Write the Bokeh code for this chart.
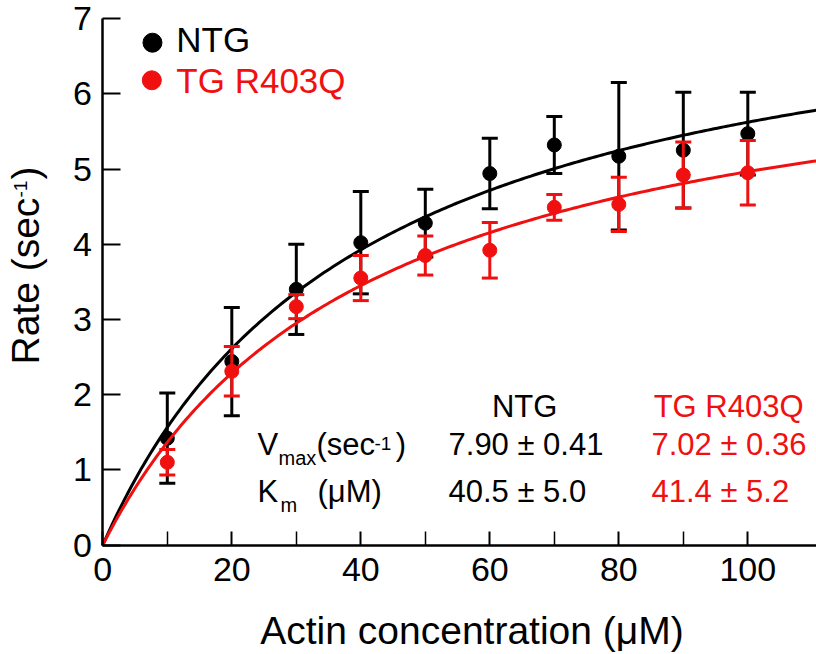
import numpy as np
from bokeh.plotting import figure
from bokeh.models import FixedTicker, Range1d, LinearAxis
from bokeh.core.properties import value
from bokeh.embed import file_html
from bokeh.resources import INLINE

# ---------------- data ----------------
conc = [10, 20, 30, 40, 50, 60, 70, 80, 90, 100]
ntg_rate = [1.42, 2.44, 3.40, 4.02, 4.28, 4.94, 5.32, 5.17, 5.25, 5.47]
ntg_err = [0.60, 0.72, 0.60, 0.68, 0.45, 0.47, 0.38, 0.98, 0.77, 0.55]
tg_rate = [1.10, 2.31, 3.17, 3.55, 3.85, 3.92, 4.49, 4.53, 4.92, 4.95]
tg_err = [0.17, 0.33, 0.16, 0.30, 0.26, 0.37, 0.17, 0.36, 0.44, 0.43]

series_names = ["NTG", "TG R403Q"]
vmax = [7.90, 7.02]
vmax_err = [0.41, 0.36]
km = [40.5, 41.4]
km_err = [5.0, 5.2]

x_ticks = [0, 20, 40, 60, 80, 100]
x_minor_ticks = [10, 30, 50, 70, 90]
y_ticks = [0, 1, 2, 3, 4, 5, 6, 7]
x_title = "Actin concentration (\u03bcM)"

# ---------------- style ----------------
FONT = "Liberation Sans"
BLACK = "#000000"
RED = "#f01010"
X_MAX = 110.65
Y_MAX = 7
BASE_FIX = 0.29  # em-fraction correction so that y is the text baseline

# the frame covers the whole canvas; axes are drawn at x=0 / y=0
p = figure(width=816, height=654, output_backend="svg", toolbar_location=None,
           x_range=Range1d(-15.86, X_MAX), y_range=Range1d(-1.456, 7.241),
           x_axis_location=None, y_axis_location=None,
           min_border=0)
p.outline_line_color = None
p.grid.visible = False
p.background_fill_color = "white"
p.border_fill_color = "white"

xax = LinearAxis(fixed_location=0, bounds=(0, X_MAX),
                 ticker=FixedTicker(ticks=x_ticks, minor_ticks=x_minor_ticks))
yax = LinearAxis(fixed_location=0, bounds=(0, Y_MAX),
                 ticker=FixedTicker(ticks=y_ticks, minor_ticks=[]))
for ax in (xax, yax):
    ax.axis_line_width = 2.5
    ax.axis_line_color = "black"
    ax.major_tick_out = 0
    ax.minor_tick_out = 0
    ax.major_tick_line_width = 2
    ax.minor_tick_line_width = 1.5
    ax.major_label_text_font = FONT
    ax.major_label_text_font_size = "34px"
    ax.major_label_text_color = "black"
xax.major_tick_in = 14
xax.minor_tick_in = 14
xax.major_label_standoff = 13
yax.major_tick_in = 18
yax.minor_tick_line_color = None
yax.major_label_standoff = 11
p.add_layout(xax, "below")
p.add_layout(yax, "left")

# ---------------- series ----------------
xs = np.linspace(0, X_MAX, 224)
series = [(ntg_rate, ntg_err, BLACK, 0), (tg_rate, tg_err, RED, 1)]
for rate, err, col, i in series:
    r = np.array(rate)
    e = np.array(err)
    lo = r - e
    hi = r + e
    p.segment(x0=conc, y0=lo, x1=conc, y1=hi, line_color=col, line_width=3)
    p.scatter(x=conc, y=hi, marker="dash", size=16, line_color=col, line_width=3)
    p.scatter(x=conc, y=lo, marker="dash", size=16, line_color=col, line_width=3)
    p.scatter(x=conc, y=rate, marker="circle", size=14, fill_color=col, line_color=col)
    # Michaelis-Menten fit with the fitted parameters shown in the chart
    p.line(x=xs, y=vmax[i] * xs / (km[i] + xs), line_color=col, line_width=3)


def txt(x, y, s, size, col, align="left", rotated=False):
    fix = BASE_FIX * size
    p.text(x=[x], y=[y], text=[s], text_font=value(FONT),
           text_font_size=value(f"{size}px"), text_color=col,
           angle=(np.pi / 2 if rotated else 0.0),
           x_offset=(-fix if rotated else 0.0),
           y_offset=(0.0 if rotated else -fix),
           text_align=align, text_baseline="alphabetic")


# legend
p.scatter(x=[7.7], y=[6.68], marker="circle", size=19, fill_color=BLACK, line_color=BLACK)
p.scatter(x=[7.6], y=[6.18], marker="circle", size=19, fill_color=RED, line_color=RED)
txt(11.4, 6.59, series_names[0], 35, BLACK)
txt(11.4, 6.04, series_names[1], 35, RED)

# parameter table
txt(65.4, 1.722, series_names[0], 31, BLACK, "center")
txt(85.4, 1.722, series_names[1], 31, RED)
txt(23.98, 1.217, "V", 31, BLACK)
txt(27.24, 1.08, "max", 20, BLACK)
txt(33.13, 1.217, "(sec", 31, BLACK)
txt(42.12, 1.27, "-1", 19, BLACK)
txt(45.4, 1.217, ")", 31, BLACK)
txt(23.98, 0.592, "K", 31, BLACK)
txt(27.55, 0.459, "m", 20, BLACK)
txt(33.29, 0.592, "(\u03bcM)", 31, BLACK)
txt(53.6, 1.217, f"{vmax[0]:.2f} \u00b1 {vmax_err[0]:.2f}", 31, BLACK)
txt(85.07, 1.217, f"{vmax[1]:.2f} \u00b1 {vmax_err[1]:.2f}", 31, RED)
txt(53.6, 0.592, f"{km[0]:.1f} \u00b1 {km_err[0]:.1f}", 31, BLACK)
txt(85.07, 0.592, f"{km[1]:.1f} \u00b1 {km_err[1]:.1f}", 31, RED)

# axis titles
txt(57.24, -1.293, x_title, 39, BLACK, "center")
txt(-10.17, 2.40, "Rate (sec", 39, BLACK, rotated=True)
txt(-11.83, 4.62, "-1", 19, BLACK, rotated=True)
txt(-10.17, 4.86, ")", 39, BLACK, rotated=True)

open("out.html", "w").write(file_html(p, INLINE))
